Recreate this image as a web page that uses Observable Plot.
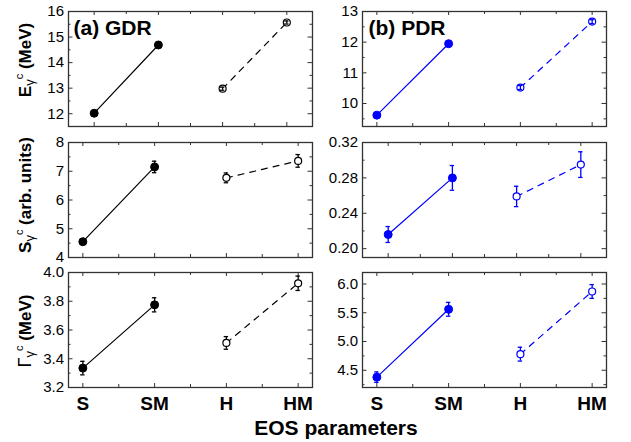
<!DOCTYPE html>
<html><head><meta charset="utf-8">
<script src="https://cdn.jsdelivr.net/npm/d3@7"></script>
<script src="https://cdn.jsdelivr.net/npm/@observablehq/plot@0.6"></script>
<style>
body{margin:0;background:#fff;font-family:"Liberation Sans",Arial,sans-serif;}
#chart{position:relative;width:631px;height:442px;overflow:hidden;background:#fff;}
#chart svg{position:absolute;overflow:visible;}
#xtitle{position:absolute;left:136px;width:400px;top:417px;text-align:center;font:bold 21px "Liberation Sans",Arial,sans-serif;line-height:1;color:#000;}
</style></head><body><div id="chart"><div id="xtitle">EOS parameters</div></div>
<script>
// categories
const eos = ["S", "SM", "H", "HM"];
// (a) GDR
const gdrE = [12.02, 14.69, 12.98, 15.57];
const gdrEErr = [0.04, 0.04, 0.06, 0.06];
const gdrS = [4.55, 7.15, 6.77, 7.36];
const gdrSErr = [0.08, 0.20, 0.17, 0.22];
const gdrG = [3.335, 3.775, 3.51, 3.925];
const gdrGErr = [0.047, 0.049, 0.044, 0.05];
// (b) PDR
const pdrE = [9.62, 11.95, 10.52, 12.67];
const pdrEErr = [0.05, 0.05, 0.065, 0.065];
const pdrS = [0.216, 0.280, 0.259, 0.295];
const pdrSErr = [0.009, 0.014, 0.0115, 0.0145];
const pdrG = [4.38, 5.56, 4.78, 5.87];
const pdrGErr = [0.09, 0.12, 0.12, 0.12];
// tick labels
const ticksGdrE = [12, 13, 14, 15, 16];
const minorGdrE = [11.5, 12.5, 13.5, 14.5, 15.5];
const ticksGdrS = [4, 5, 6, 7, 8];
const minorGdrS = [4.5, 5.5, 6.5, 7.5];
const ticksGdrG = [3.2, 3.4, 3.6, 3.8, 4.0];
const minorGdrG = [3.3, 3.5, 3.7, 3.9];
const ticksPdrE = [10, 11, 12, 13];
const minorPdrE = [9.5, 10.5, 11.5, 12.5];
const ticksPdrS = [0.20, 0.24, 0.28, 0.32];
const minorPdrS = [0.22, 0.26, 0.30];
const ticksPdrG = [4.5, 5.0, 5.5, 6.0];
const minorPdrG = [4.25, 4.75, 5.25, 5.75];
const xMajor = [1, 2, 3, 4];
const xMinor = [1.5, 2.5, 3.5];

const chart = document.getElementById("chart");

function panel(o) {
  const innerW = o.w - o.mL - o.mR;
  const innerH = o.h - o.mT - o.mB;
  const rows = eos.map((name, i) => ({x: i + 1, name, v: o.values[i], e: o.errs[i], filled: i < 2}));
  const solid = rows.filter(d => d.filled);
  const open = rows.filter(d => !d.filled);
  const fc = "#333";
  const bars = [
    Plot.ruleX(rows, {x: "x", y1: d => d.v - d.e, y2: d => d.v + d.e, stroke: o.color, strokeWidth: 1.3}),
    Plot.ruleY(rows, {y: d => d.v + d.e, x1: "x", x2: "x", insetLeft: -2.2, insetRight: -2.2, stroke: o.color, strokeWidth: 1.3}),
    Plot.ruleY(rows, {y: d => d.v - d.e, x1: "x", x2: "x", insetLeft: -2.2, insetRight: -2.2, stroke: o.color, strokeWidth: 1.3})
  ];
  const marks = [
    Plot.tickY(o.yMajor, {y: d => d, insetRight: innerW - 4.5, stroke: fc}),
    Plot.tickY(o.yMajor, {y: d => d, insetLeft: innerW - 4.5, stroke: fc}),
    Plot.tickY(o.yMinor, {y: d => d, insetRight: innerW - 2.5, stroke: fc}),
    Plot.tickY(o.yMinor, {y: d => d, insetLeft: innerW - 2.5, stroke: fc}),
    Plot.tickX(xMajor, {x: d => d, insetTop: innerH - 4, stroke: fc}),
    Plot.tickX(xMajor, {x: d => d, insetBottom: innerH - 4, stroke: fc}),
    Plot.tickX(xMinor, {x: d => d, insetTop: innerH - 3, stroke: fc}),
    Plot.tickX(xMinor, {x: d => d, insetBottom: innerH - 3, stroke: fc}),
    Plot.line(solid, {x: "x", y: "v", stroke: o.color, strokeWidth: 1.2}),
    Plot.line(open, {x: "x", y: "v", stroke: o.color, strokeWidth: 1.2, strokeDasharray: "6,6"}),
    ...(o.barsOnTop ? [] : bars),
    Plot.dot(solid, {x: "x", y: "v", r: o.r, fill: o.color, stroke: o.color, strokeWidth: 1}),
    Plot.dot(open, {x: "x", y: "v", r: o.r - 0.5, fill: "white", stroke: o.color, strokeWidth: 1.2}),
    ...(o.barsOnTop ? bars : []),
    Plot.frame({stroke: fc, strokeWidth: 1.3}),
    Plot.axisY(o.yMajor, {tickSize: 0, tickPadding: 4.5, tickFormat: o.yFmt, fontSize: 15, fill: "black", label: null})
  ];
  if (o.label) {
    marks.push(Plot.text([o.label], {text: d => d, frameAnchor: "top-left", dx: o.labelDx, dy: 9, textAnchor: "start", lineAnchor: "top", fontSize: 21, fontWeight: "bold", fill: "black"}));
  }
  if (o.bottom) {
    marks.push(Plot.axisX(xMajor, {tickSize: 0, tickPadding: 9, tickFormat: d => eos[d - 1], fontSize: 19, fontWeight: "bold", fill: "black", label: null}));
  }
  const svg = Plot.plot({
    width: o.w, height: o.h,
    marginLeft: o.mL, marginRight: o.mR, marginTop: o.mT, marginBottom: o.mB,
    x: {domain: o.xDomain, ...(o.bottom ? {} : {axis: null})},
    y: {domain: o.yDomain},
    style: {fontFamily: "'Liberation Sans', Arial, sans-serif", fontSize: "15px", color: "black", background: "transparent", overflow: "visible"},
    marks
  });
  svg.style.left = o.left + "px";
  svg.style.top = o.top + "px";
  svg.style.maxWidth = "none";
  if (o.title) {
    const t = d3.select(svg).append("text")
      .attr("transform", `translate(31,${o.titleY}) rotate(-90)`)
      .attr("text-anchor", "middle")
      .attr("fill", "black")
      .style("font-family", "'Liberation Sans', Arial, sans-serif")
      .style("font-size", "17px")
      .style("font-weight", "bold");
    o.title(t);
  }
  chart.appendChild(svg);
}

function sym(t, head, headBold, tail) {
  t.append("tspan").text(head).style("font-weight", headBold ? "bold" : "normal").style("font-size", headBold ? "17px" : "18px");
  t.append("tspan").text("\u03B3").attr("dy", 3).style("font-weight", "normal").style("font-size", "13px");
  t.append("tspan").text("c").attr("dy", -11).style("font-weight", "normal").style("font-size", "11px");
  t.append("tspan").text(tail).attr("dy", 8).style("font-weight", "bold").style("font-size", "17px");
}

const fmt1 = d3.format(".1f"), fmt2 = d3.format(".2f"), fmt0 = d3.format("d");

// left column
panel({left: 0, top: 0, w: 316, h: 131, mL: 68, mR: 4, mT: 11, mB: 5, xDomain: [0.6, 4.4], yDomain: [11.5, 16],
  yMajor: ticksGdrE, yMinor: minorGdrE, yFmt: fmt0, values: gdrE, errs: gdrEErr, color: "black", r: 4, barsOnTop: true,
  label: "(a) GDR", labelDx: 5, title: t => sym(t, "E", true, " (MeV)"), titleY: 60});
panel({left: 0, top: 131, w: 316, h: 131, mL: 68, mR: 4, mT: 11, mB: 5, xDomain: [0.8, 4.2], yDomain: [4, 8],
  yMajor: ticksGdrS, yMinor: minorGdrS, yFmt: fmt0, values: gdrS, errs: gdrSErr, color: "black", r: 4,
  title: t => sym(t, "S", true, " (arb. units)"), titleY: 64});
panel({left: 0, top: 262, w: 316, h: 180, mL: 68, mR: 4, mT: 10, mB: 55, xDomain: [0.8, 4.2], yDomain: [3.2, 4.0],
  yMajor: ticksGdrG, yMinor: minorGdrG, yFmt: fmt1, values: gdrG, errs: gdrGErr, color: "black", r: 4, bottom: true,
  title: t => sym(t, "\u0393", false, " (MeV)"), titleY: 69});
// right column
panel({left: 316, top: 0, w: 315, h: 131, mL: 46, mR: 25, mT: 11, mB: 5, xDomain: [0.8, 4.2], yDomain: [9.25, 13],
  yMajor: ticksPdrE, yMinor: minorPdrE, yFmt: fmt0, values: pdrE, errs: pdrEErr, color: "#0000ff", r: 4, barsOnTop: true,
  label: "(b) PDR", labelDx: 6});
panel({left: 316, top: 131, w: 315, h: 131, mL: 46, mR: 25, mT: 11, mB: 5, xDomain: [0.6, 4.4], yDomain: [0.19, 0.32],
  yMajor: ticksPdrS, yMinor: minorPdrS, yFmt: fmt2, values: pdrS, errs: pdrSErr, color: "#0000ff", r: 4});
panel({left: 316, top: 262, w: 315, h: 180, mL: 46, mR: 25, mT: 10, mB: 55, xDomain: [0.8, 4.2], yDomain: [4.2, 6.2],
  yMajor: ticksPdrG, yMinor: minorPdrG, yFmt: fmt1, values: pdrG, errs: pdrGErr, color: "#0000ff", r: 4, bottom: true});
</script></body></html>
